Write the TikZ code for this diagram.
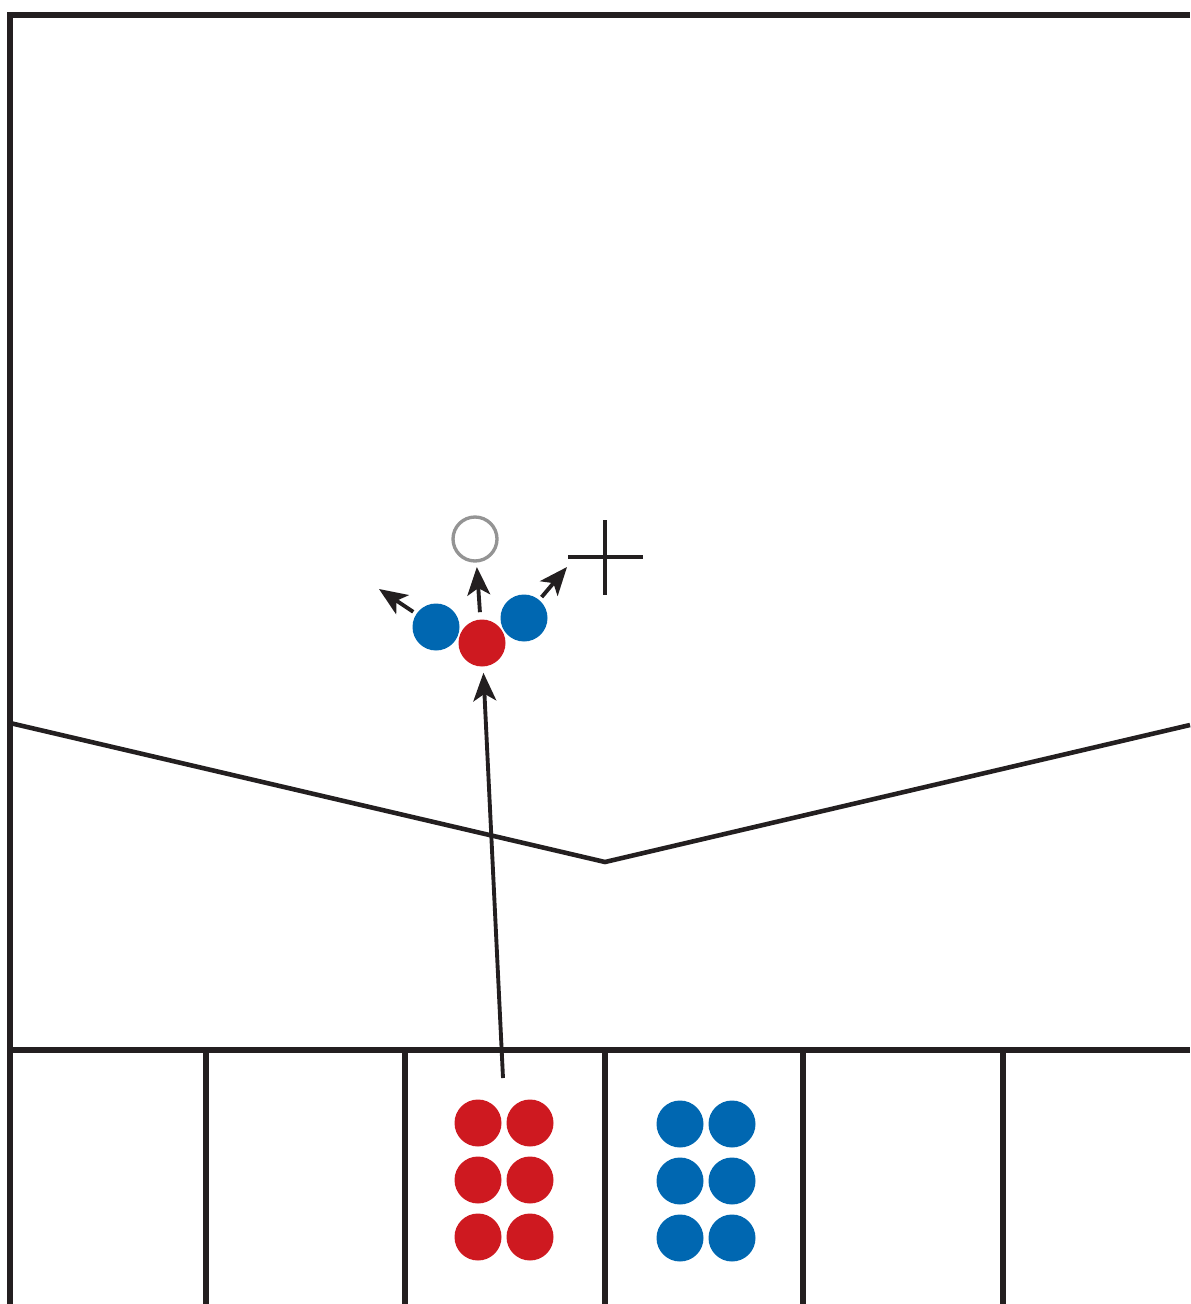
\documentclass[tikz,border=0pt]{standalone}
\usetikzlibrary{arrows.meta}
\definecolor{ink}{RGB}{35,31,32}
\definecolor{dotred}{RGB}{206,25,32}
\definecolor{dotblue}{RGB}{0,103,177}
\tikzset{
  wall/.style    = {draw=ink, line width=3pt},
  reddot/.style  = {circle, fill=dotred, minimum size=0.94cm, inner sep=0pt},
  bluedot/.style = {circle, fill=dotblue, minimum size=0.94cm, inner sep=0pt},
  ghost/.style   = {circle, draw=black!42, line width=1.9pt, minimum size=0.88cm, inner sep=0pt},
  arrow/.style   = {-{Stealth[length=16pt, width=13pt, inset=4pt]}, draw=ink, line width=2.2pt}
}
\begin{document}
\begin{tikzpicture}[x=0.02cm, y=-0.02cm]
  \useasboundingbox (0,0) rectangle (1190,1304);
  % frame and bays
  \draw[wall] (10,1304) -- (10,15) -- (1190,15);
  \draw[wall] (10,1050) -- (1190,1050);
  \foreach \x in {206,405,605,803,1003}
    \draw[wall] (\x,1050) -- (\x,1304);
  \draw[draw=ink, line width=2.6pt] (10,723) -- (605,862) -- (1190,725);

  % dots waiting in the bays
  \foreach \row/\y in {1/1123,2/1180,3/1237} {
    \node[reddot]  (red-\row-a)  at (478,\y) {};
    \node[reddot]  (red-\row-b)  at (530,\y) {};
    \node[bluedot] (blue-\row-a) at (680,\y+1) {};
    \node[bluedot] (blue-\row-b) at (732,\y+1) {};
  }

  % the group in play
  \node[bluedot] (left)    at (436,627) {};
  \node[bluedot] (right)   at (524,618) {};
  \node[reddot]  (striker) at (482,643) {};
  \node[ghost]   (aim)     at (475,539) {};
  \coordinate (launch) at (503,1078);
  \coordinate (outleft) at (379,589);
  \coordinate (target) at (605,557);
  \coordinate (outright) at (567,567);

  \draw[draw=ink, line width=2.2pt] (target) ++(-37,0) -- ++(75,0);
  \draw[draw=ink, line width=2.2pt] (target) ++(0,-37) -- ++(0,75);

  \draw[arrow, shorten >=3.4pt] (launch) -- (striker);
  \draw[arrow, shorten <=4pt, shorten >=2.5pt] (striker) -- (aim);
  \draw[arrow, shorten <=2pt] (left) -- (outleft);
  \draw[arrow, shorten <=2pt] (right) -- (outright);
\end{tikzpicture}
\end{document}
